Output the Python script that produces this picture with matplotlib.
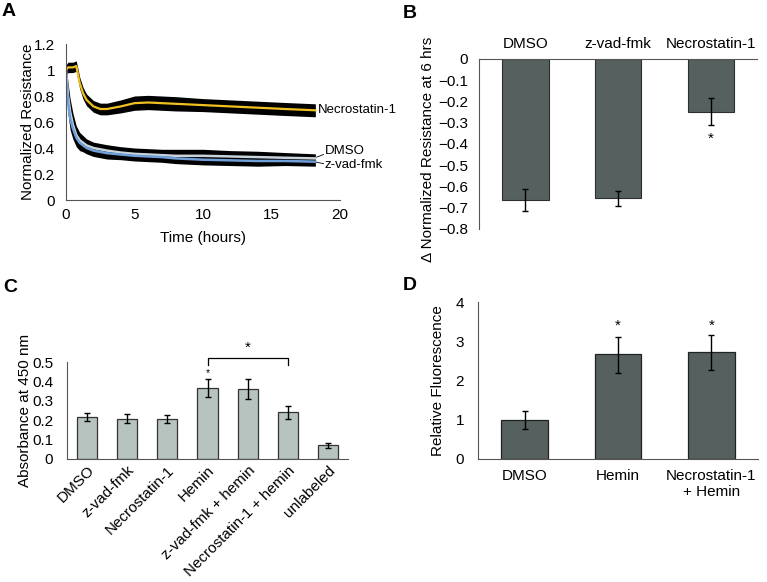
import matplotlib
matplotlib.use("Agg")
import matplotlib.pyplot as plt

plt.rcParams['font.family'] = ['Liberation Sans', 'DejaVu Sans']
plt.rcParams['font.size'] = 11
plt.rcParams['axes.unicode_minus'] = True

# ---- Panel A: time course of normalized resistance ----
time_h = [0, 0.15, 0.3, 0.5, 0.75, 1.0, 1.25, 1.5, 2, 2.5, 3, 4, 5, 6, 7, 8, 10, 12, 14, 16, 18.2]
necro_mean = [1.0, 1.02, 1.02, 1.02, 1.03, 0.90, 0.82, 0.77, 0.72, 0.70, 0.70, 0.72, 0.745, 0.75,
              0.745, 0.74, 0.73, 0.72, 0.71, 0.70, 0.69]
necro_err = [0.04, 0.04, 0.04, 0.04, 0.04, 0.045, 0.045, 0.045, 0.045, 0.045, 0.045, 0.05, 0.055,
             0.055, 0.055, 0.055, 0.05, 0.05, 0.05, 0.05, 0.05]
dmso_mean = [1.0, 0.80, 0.68, 0.58, 0.50, 0.46, 0.44, 0.42, 0.40, 0.39, 0.38, 0.365, 0.355, 0.35,
             0.345, 0.34, 0.34, 0.335, 0.33, 0.325, 0.32]
dmso_err = [0.05, 0.10, 0.10, 0.09, 0.07, 0.06, 0.055, 0.05, 0.045, 0.045, 0.045, 0.045, 0.045,
            0.045, 0.045, 0.05, 0.05, 0.045, 0.045, 0.04, 0.035]
zvad_mean = [0.95, 0.75, 0.63, 0.55, 0.48, 0.44, 0.42, 0.40, 0.38, 0.37, 0.36, 0.35, 0.34, 0.335,
             0.33, 0.32, 0.31, 0.305, 0.30, 0.30, 0.295]
zvad_err = [0.05, 0.09, 0.09, 0.08, 0.07, 0.06, 0.05, 0.045, 0.045, 0.045, 0.045, 0.04, 0.04, 0.04,
            0.04, 0.04, 0.04, 0.04, 0.04, 0.035, 0.035]

# ---- Panel B ----
b_labels = ['DMSO', 'z-vad-fmk', 'Necrostatin-1']
b_values = [-0.665, -0.656, -0.248]
b_lo = [-0.715, -0.690, -0.310]
b_hi = [-0.612, -0.622, -0.182]

# ---- Panel C ----
c_labels = ['DMSO', 'z-vad-fmk', 'Necrostatin-1', 'Hemin', 'z-vad-fmk + hemin',
            'Necrostatin-1 + hemin', 'unlabeled']
c_values = [0.215, 0.208, 0.208, 0.365, 0.360, 0.240, 0.070]
c_err = [0.020, 0.025, 0.020, 0.047, 0.050, 0.032, 0.013]

# ---- Panel D ----
d_labels = ['DMSO', 'Hemin', 'Necrostatin-1\n+ Hemin']
d_values = [1.0, 2.68, 2.73]
d_lo = [0.77, 2.20, 2.28]
d_hi = [1.22, 3.12, 3.16]

dark_bar = '#56605f'
light_bar = '#b7c3bf'
spine_col = '#555555'

fig = plt.figure(figsize=(7.67, 5.82), dpi=100)

def W(px):
    return px / 767

def H(px):
    return px / 582

def errs(vals, lo, hi):
    return [[v - l for v, l in zip(vals, lo)], [h - v for v, h in zip(vals, hi)]]

# Panel A
axA = fig.add_axes([W(66), 1 - H(200), W(274), H(156)])
for m, e in [(necro_mean, necro_err), (dmso_mean, dmso_err), (zvad_mean, zvad_err)]:
    axA.fill_between(time_h, [a - b for a, b in zip(m, e)], [a + b for a, b in zip(m, e)],
                     color='black', lw=0)
axA.plot(time_h, dmso_mean, color='#c9d3dc', lw=1.8)
axA.plot(time_h, zvad_mean, color='#6f9fd8', lw=1.8)
axA.plot(time_h, necro_mean, color='#f0c020', lw=1.6)
axA.set_xlim(0, 20)
axA.set_ylim(0, 1.2)
axA.set_xticks([0, 5, 10, 15, 20])
axA.set_yticks([0, 0.2, 0.4, 0.6, 0.8, 1.0, 1.2])
axA.set_yticklabels(['0', '0.2', '0.4', '0.6', '0.8', '1', '1.2'])
axA.set_xlabel('Time (hours)', labelpad=6)
axA.set_ylabel('Normalized Resistance')
axA.yaxis.set_label_coords(-0.113, 0.5)
axA.text(18.4, 0.69, 'Necrostatin-1', va='center', ha='left', fontsize=9.5, clip_on=False)
axA.text(18.9, 0.375, 'DMSO', va='center', ha='left', fontsize=9.5, clip_on=False)
axA.text(18.9, 0.27, 'z-vad-fmk', va='center', ha='left', fontsize=9.5, clip_on=False)
axA.plot([18.3, 18.8], [0.33, 0.35], color='black', lw=0.6, clip_on=False)
axA.plot([18.3, 18.8], [0.29, 0.28], color='black', lw=0.6, clip_on=False)

# Panel B
axB = fig.add_axes([W(479), 1 - H(229), W(278), H(170)])
xb = range(len(b_labels))
axB.bar(xb, b_values, width=0.5, color=dark_bar, edgecolor='#2a302f', lw=0.8)
axB.errorbar(xb, b_values, yerr=errs(b_values, b_lo, b_hi),
             fmt='none', ecolor='black', elinewidth=1, capsize=2.5, capthick=1)
axB.set_xlim(-0.5, 2.5)
axB.set_ylim(-0.8, 0)
axB.set_yticks([0, -0.1, -0.2, -0.3, -0.4, -0.5, -0.6, -0.7, -0.8])
axB.set_yticklabels(['0', '\u22120.1', '\u22120.2', '\u22120.3', '\u22120.4', '\u22120.5',
                     '\u22120.6', '\u22120.7', '\u22120.8'])
axB.set_xticks(list(xb))
axB.set_xticklabels(b_labels)
axB.xaxis.tick_top()
axB.spines['bottom'].set_visible(False)
axB.spines['right'].set_visible(False)
axB.spines['top'].set_color(spine_col)
axB.set_ylabel('\u0394 Normalized Resistance at 6 hrs')
axB.yaxis.set_label_coords(-0.158, 0.47)
axB.text(2, -0.375, '*', ha='center', va='center', fontsize=11)

# Panel C
axC = fig.add_axes([W(67), 1 - H(459), W(281), H(97)])
xc = range(len(c_labels))
axC.bar(xc, c_values, width=0.5, color=light_bar, edgecolor='#333333', lw=0.9)
axC.errorbar(xc, c_values, yerr=c_err, fmt='none', ecolor='black', elinewidth=1,
             capsize=2.5, capthick=1)
axC.set_xlim(-0.5, 6.5)
axC.set_ylim(0, 0.5)
axC.set_yticks([0, 0.1, 0.2, 0.3, 0.4, 0.5])
axC.set_yticklabels(['0', '0.1', '0.2', '0.3', '0.4', '0.5'])
axC.set_xticks(list(xc))
axC.set_xticklabels(c_labels, rotation=45, ha='right', rotation_mode='anchor')
axC.set_ylabel('Absorbance at 450 nm')
axC.yaxis.set_label_coords(-0.125, 0.5)
axC.plot([3, 3, 5, 5], [0.485, 0.52, 0.52, 0.485], color='black', lw=0.9, clip_on=False)
axC.text(4, 0.575, '*', ha='center', va='center', fontsize=11, clip_on=False)
axC.text(3, 0.445, '*', ha='center', va='center', fontsize=7.5)

# Panel D
axD = fig.add_axes([W(478), 1 - H(459), W(280), H(157)])
xd = range(len(d_labels))
axD.bar(xd, d_values, width=0.5, color=dark_bar, edgecolor='#1f2423', lw=0.9)
axD.errorbar(xd, d_values, yerr=errs(d_values, d_lo, d_hi),
             fmt='none', ecolor='black', elinewidth=1, capsize=2.5, capthick=1)
axD.set_xlim(-0.5, 2.5)
axD.set_ylim(0, 4)
axD.set_yticks([0, 1, 2, 3, 4])
axD.set_xticks(list(xd))
axD.set_xticklabels(d_labels)
axD.set_ylabel('Relative Fluorescence')
axD.yaxis.set_label_coords(-0.118, 0.5)
for i in [1, 2]:
    axD.text(i, 3.4, '*', ha='center', va='center', fontsize=11)

for ax in [axA, axB, axC, axD]:
    ax.tick_params(length=0, labelsize=11)
    for s in ['top', 'right']:
        if not (ax is axB and s == 'top'):
            ax.spines[s].set_visible(False)
    for s in ['left', 'bottom']:
        ax.spines[s].set_color(spine_col)
axA.tick_params(axis='y', pad=8)
axA.tick_params(axis='x', pad=6)
axB.tick_params(axis='y', pad=8)
axB.tick_params(axis='x', pad=6)
axC.tick_params(axis='y', pad=10)
axC.tick_params(axis='x', pad=3)
axD.tick_params(axis='y', pad=10)
axD.tick_params(axis='x', pad=7)

# Panel letters
for lbl, x, y in [('A', 9, 12), ('B', 410, 13), ('C', 10, 287), ('D', 410, 285)]:
    fig.text(W(x), 1 - H(y), lbl, fontsize=14, fontweight='bold', ha='center', va='center')

fig.savefig('out.png', dpi=100)
